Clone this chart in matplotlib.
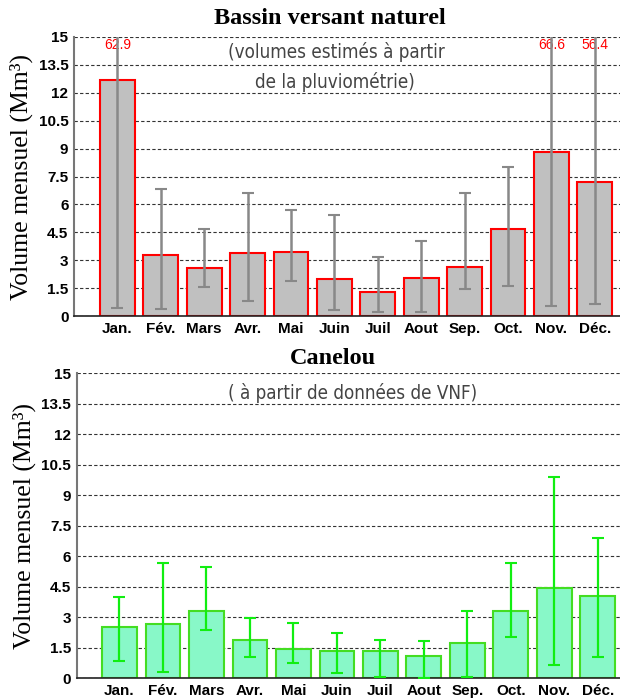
import numpy as np
import matplotlib
matplotlib.use("Agg")
import matplotlib.pyplot as plt

# ---------------- DATA ----------------
mois = ['Jan.', 'Fév.', 'Mars', 'Avr.', 'Mai', 'Juin', 'Juil', 'Aout', 'Sep.', 'Oct.', 'Nov.', 'Déc.']

# Bassin versant naturel
bv_moy = [12.7, 3.3, 2.6, 3.4, 3.42, 2.0, 1.3, 2.06, 2.65, 4.7, 8.82, 7.2]
bv_min = [0.41, 0.38, 1.56, 0.81, 1.88, 0.32, 0.2, 0.2, 1.43, 1.61, 0.55, 0.66]
bv_max = [62.9, 6.83, 4.66, 6.6, 5.68, 5.43, 3.19, 4.01, 6.63, 8.03, 66.6, 56.4]

# Canelou
ca_moy = [2.51, 2.67, 3.31, 1.88, 1.44, 1.36, 1.36, 1.11, 1.72, 3.33, 4.43, 4.06]
ca_min = [0.87, 0.33, 2.38, 1.06, 0.75, 0.26, 0.08, 0.0, 0.05, 2.02, 0.67, 1.03]
ca_max = [4.01, 5.66, 5.49, 2.95, 2.74, 2.24, 1.88, 1.83, 3.33, 5.66, 9.92, 6.89]

yticks = [0, 1.5, 3, 4.5, 6, 7.5, 9, 10.5, 12, 13.5, 15]
ytick_labels = ['0', '1.5', '3', '4.5', '6', '7.5', '9', '10.5', '12', '13.5', '15']
ymax = 15

x = np.arange(1, 13)

sub_font = dict(family='DejaVu Sans', stretch='condensed', weight='light',
                fontsize=13.5, color='#444444')


def style_axes(ax, xlo, xhi):
    ax.set_xlim(xlo, xhi)
    ax.set_ylim(0, ymax)
    ax.set_yticks(yticks)
    ax.set_yticklabels(ytick_labels, fontsize=11, fontweight='bold', family='Liberation Sans')
    ax.set_xticks(x)
    ax.set_xticklabels(mois, fontsize=11, fontweight='bold', family='Liberation Sans')
    ax.tick_params(length=0, pad=4)
    ax.yaxis.grid(True, linestyle=(0, (3, 2)), color='#333333', linewidth=0.8)
    ax.set_axisbelow(True)
    for s in ['top', 'right']:
        ax.spines[s].set_visible(False)
    ax.spines['left'].set_color('#777777')
    ax.spines['left'].set_linewidth(1.5)
    ax.spines['bottom'].set_color('#222222')
    ax.spines['bottom'].set_linewidth(1.2)
    ax.set_ylabel('Volume mensuel (Mm³)', family='Liberation Serif', fontsize=18.5, labelpad=4)


fig = plt.figure(figsize=(6.2, 6.98), dpi=100)

# ------------- haut : bassin versant naturel -------------
ax1 = fig.add_axes([74/620, 1-316/698, 546/620, 279/698])
moy = np.array(bv_moy)
err = [moy - np.array(bv_min), np.array(bv_max) - moy]
ax1.bar(x, moy, width=0.8, color='#c0c0c0', edgecolor='#ff0000', linewidth=1.5, zorder=2)
for i in range(12):
    if bv_max[i] > ymax:
        ax1.text(x[i], 14.55, f'{bv_max[i]:.1f}', color='#ff0000', fontsize=10,
                 ha='center', va='center', family='Liberation Sans', zorder=3)
ax1.errorbar(x, moy, yerr=err, fmt='none', ecolor='#888888', elinewidth=1.8,
             capsize=4.5, capthick=1.5, zorder=4)
style_axes(ax1, 0, 12.58)

fig.text(330/620, 1-19/698, 'Bassin versant naturel', ha='center', va='center',
         family='Liberation Serif', fontweight='bold', fontsize=17.5)
fig.text(336/620, 1-52/698, '(volumes estimés à partir', ha='center', va='center', **sub_font)
fig.text(335/620, 1-82/698, 'de la pluviométrie)', ha='center', va='center', **sub_font)

# ------------- bas : Canelou -------------
ax2 = fig.add_axes([76.7/620, 1-678.3/698, 543.3/620, 305/698])
moy = np.array(ca_moy)
err = [moy - np.array(ca_min), np.array(ca_max) - moy]
ax2.bar(x, moy, width=0.8, color='#88f8c8', edgecolor='#44dd22', linewidth=1.5, zorder=2)
ax2.errorbar(x, moy, yerr=err, fmt='none', ecolor='#11ee11', elinewidth=1.6,
             capsize=4, capthick=1.5, zorder=4)
style_axes(ax2, 0.016, 12.51)

fig.text(333/620, 1-358/698, 'Canelou', ha='center', va='center',
         family='Liberation Serif', fontweight='bold', fontsize=17.5)
fig.text(353/620, 1-393/698, '( à partir de données de VNF)', ha='center', va='center', **sub_font)

fig.savefig('out.png', dpi=100)
